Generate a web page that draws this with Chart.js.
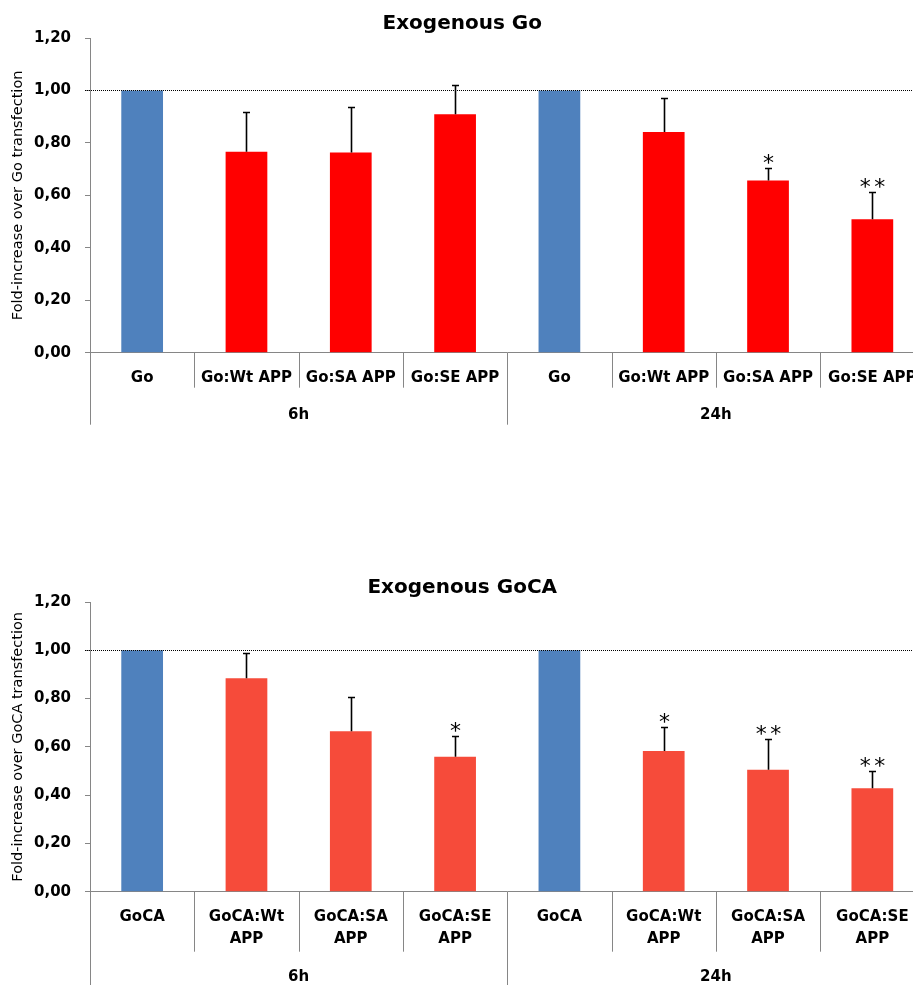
<!DOCTYPE html>
<html>
<head>
<meta charset="utf-8">
<script src="https://cdn.jsdelivr.net/npm/chart.js@4.4.1/dist/chart.umd.min.js"></script>
<style>
  html, body { margin: 0; padding: 0; background: #fff; overflow: hidden; }
  body { width: 913px; height: 985px; position: relative; }
  canvas { position: absolute; left: 0; }
  #goChart { top: 0; }
  #gocaChart { top: 564px; }
</style>
</head>
<body>
<canvas id="goChart" width="935" height="440"></canvas>
<canvas id="gocaChart" width="935" height="421"></canvas>
<script>
// time points (second level of the category axis)
const groupLabels = ['6h', '24h'];

// Exogenous Go
const goLabels = ['Go', 'Go:Wt APP', 'Go:SA APP', 'Go:SE APP', 'Go', 'Go:Wt APP', 'Go:SA APP', 'Go:SE APP'];
const goValues = [1.00, 0.766, 0.763, 0.909, 1.00, 0.842, 0.657, 0.509];
const goErrors = [0, 0.150, 0.174, 0.113, 0, 0.129, 0.046, 0.104];
const goStars  = ['', '', '', '', '', '', '*', '**'];

// Exogenous GoCA
const gocaLabels = ['GoCA', ['GoCA:Wt', 'APP'], ['GoCA:SA', 'APP'], ['GoCA:SE', 'APP'],
                    'GoCA', ['GoCA:Wt', 'APP'], ['GoCA:SA', 'APP'], ['GoCA:SE', 'APP']];
const gocaValues = [1.00, 0.884, 0.665, 0.559, 1.00, 0.583, 0.505, 0.429];
const gocaErrors = [0, 0.104, 0.142, 0.085, 0, 0.098, 0.128, 0.073];
const gocaStars  = ['', '', '', '*', '', '*', '**', '**'];

const yTicks = [0, 0.2, 0.4, 0.6, 0.8, 1.0, 1.2];

const BLUE = '#4F81BD';
const AXIS = '#868686';
const FONT = 'DejaVu Sans';

// dotted 1.0 line, error bars, stars, and the two-level axis dividers
const annotations = {
  id: 'annotations',
  afterDatasetsDraw(chart, args, opts) {
    const { ctx, chartArea } = chart;
    const x = chart.scales.x, y = chart.scales.y;
    ctx.save();

    const yRef = Math.round(y.getPixelForValue(1)) + 0.5;
    ctx.strokeStyle = '#000';
    ctx.lineWidth = 1;
    ctx.setLineDash([1, 1]);
    ctx.beginPath();
    ctx.moveTo(chartArea.left - 5, yRef);
    ctx.lineTo(chartArea.right, yRef);
    ctx.stroke();
    ctx.setLineDash([]);

    ctx.font = `22px "${FONT}"`;
    ctx.fillStyle = '#000';
    ctx.textAlign = 'center';
    ctx.textBaseline = 'alphabetic';
    const m = ctx.measureText('*');
    const starShift = (m.actualBoundingBoxAscent - m.actualBoundingBoxDescent) / 2;

    opts.values.forEach((v, i) => {
      const e = opts.errors[i];
      if (!e) return;
      const cx = Math.round(x.getPixelForValue(i)) + 0.5;
      const yBar = y.getPixelForValue(v);
      const yTop = Math.round(y.getPixelForValue(v + e)) + 0.5;
      ctx.lineWidth = 1.6;
      ctx.beginPath();
      ctx.moveTo(cx, yBar);
      ctx.lineTo(cx, yTop);
      ctx.moveTo(cx - 3.5, yTop);
      ctx.lineTo(cx + 3.5, yTop);
      ctx.stroke();

      const s = opts.stars[i];
      if (s) {
        const cy = yTop - 10 + starShift;
        if (s.length === 1) {
          ctx.fillText('*', cx, cy);
        } else {
          ctx.fillText('*', cx - 7.3, cy);
          ctx.fillText('*', cx + 7.3, cy);
        }
      }
    });
    ctx.restore();
  },
  afterDraw(chart, args, opts) {
    const { ctx, chartArea } = chart;
    const x = chart.scales.x;
    const n = x.getLabels().length;
    const bottom = chartArea.bottom;
    ctx.save();
    ctx.strokeStyle = AXIS;
    ctx.lineWidth = 1;

    const bounds = [chartArea.left];
    for (let i = 1; i < n; i++) {
      bounds.push((x.getPixelForValue(i - 1) + x.getPixelForValue(i)) / 2);
    }
    bounds.push(chartArea.right);

    const half = n / 2;
    ctx.beginPath();
    const lx = Math.round(chartArea.left) + 0.5;
    ctx.moveTo(lx, bottom);
    ctx.lineTo(lx, bottom + opts.longLen);
    for (let i = 1; i < n; i++) {
      const bx = Math.round(bounds[i]) + 0.5;
      ctx.moveTo(bx, bottom);
      ctx.lineTo(bx, bottom + (i === half ? opts.longLen : opts.shortLen));
    }
    ctx.stroke();

    ctx.font = `bold 15px "${FONT}"`;
    ctx.fillStyle = '#000';
    ctx.textAlign = 'center';
    ctx.textBaseline = 'middle';
    groupLabels.forEach((g, k) => {
      const gx = (bounds[k * half] + bounds[(k + 1) * half]) / 2;
      ctx.fillText(g, gx, bottom + opts.groupY);
    });
    ctx.restore();
  }
};

function makeChart(id, title, yTitle, labels, values, errors, stars, red, xHeight, extra) {
  const colors = labels.map((l, i) => (i % 4 === 0 ? BLUE : red));
  return new Chart(document.getElementById(id), {
    type: 'bar',
    data: {
      labels: labels,
      datasets: [{
        data: values,
        backgroundColor: colors,
        borderWidth: 0,
        barPercentage: 0.4,
        categoryPercentage: 1.0
      }]
    },
    options: {
      responsive: false,
      animation: false,
      layout: { padding: { left: 0, right: 10.5, top: 0, bottom: 0 } },
      plugins: {
        legend: { display: false },
        tooltip: { enabled: false },
        title: {
          display: true,
          text: title,
          color: '#000',
          font: { family: FONT, size: 20, weight: 'bold', lineHeight: 1.2 },
          padding: { top: 12, bottom: 2 }
        },
        annotations: { values, errors, stars, ...extra }
      },
      scales: {
        x: {
          type: 'category',
          grid: { display: false, drawTicks: false },
          border: { display: true, color: AXIS, width: 1 },
          ticks: {
            autoSkip: false,
            maxRotation: 0,
            color: '#000',
            padding: 14,
            font: { family: FONT, size: 15, weight: 'bold', lineHeight: 1.5 }
          },
          afterFit: s => { s.height = xHeight; }
        },
        y: {
          min: 0,
          max: 1.2,
          afterBuildTicks: s => { s.ticks = yTicks.map(v => ({ value: v })); },
          grid: { drawOnChartArea: false, drawTicks: true, tickLength: 5, color: AXIS },
          border: { display: true, color: AXIS, width: 1 },
          ticks: {
            color: '#000',
            padding: 14,
            font: { family: FONT, size: 15, weight: 'bold' },
            callback: v => v.toFixed(2).replace('.', ',')
          },
          title: {
            display: true,
            text: yTitle,
            color: '#000',
            font: { family: FONT, size: 14.5, lineHeight: 1.2 },
            padding: { top: 10, bottom: 0 }
          },
          afterFit: s => { s.width = 90; }
        }
      }
    },
    plugins: [annotations]
  });
}

makeChart('goChart', 'Exogenous Go', 'Fold-increase over Go transfection',
  goLabels, goValues, goErrors, goStars, '#FF0000', 87.3,
  { shortLen: 35, longLen: 72, groupY: 62 });

makeChart('gocaChart', 'Exogenous GoCA', 'Fold-increase over GoCA transfection',
  gocaLabels, gocaValues, gocaErrors, gocaStars, '#F64B3A', 93.3,
  { shortLen: 60, longLen: 94, groupY: 85 });
</script>
</body>
</html>
